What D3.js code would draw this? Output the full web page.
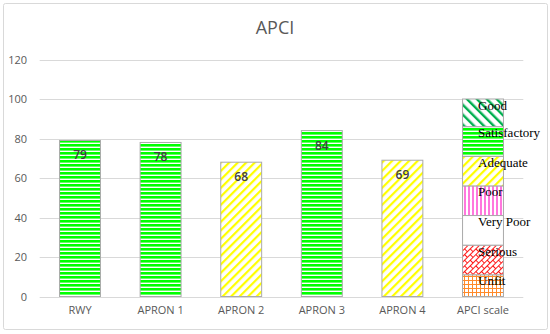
<!DOCTYPE html>
<html><head><meta charset="utf-8">
<script src="https://cdn.jsdelivr.net/npm/d3@7"></script>
<style>html,body{margin:0;padding:0;background:#fff;}svg{display:block;}</style>
</head><body>
<svg id="c" width="550" height="334"></svg>
<script>
const categories = ["RWY", "APRON 1", "APRON 2", "APRON 3", "APRON 4"];
const values = [79, 78, 68, 84, 69];
const ratings = ["Satisfactory", "Satisfactory", "Adequate", "Satisfactory", "Adequate"];
const scaleCategory = "APCI scale";
const scaleLabels = ["Unfit", "Serious", "Very Poor", "Poor", "Adequate", "Satisfactory", "Good"];
const scaleValues = [11, 15, 15, 15, 15, 15, 14];
const yTicks = [0, 20, 40, 60, 80, 100, 120];
const title = "APCI";

const svg = d3.select("#c");
const defs = svg.append("defs");
const pid = l => "p-" + l.replace(/\s+/g, "_");

// patterns
function pat(label, w, h, build, transform) {
  const p = defs.append("pattern").attr("id", pid(label)).attr("patternUnits", "userSpaceOnUse")
    .attr("width", w).attr("height", h);
  if (transform) p.attr("patternTransform", transform);
  p.append("rect").attr("width", w).attr("height", h).attr("fill", "#fff");
  build(p);
}
pat("Satisfactory", 4, 4, p => p.append("rect").attr("y", 0).attr("width", 4).attr("height", 2.6).attr("fill", "#00ff00"));
pat("Adequate", 6, 6, p => p.append("rect").attr("width", 2.2).attr("height", 6).attr("fill", "#ffff00"), "rotate(45)");
pat("Good", 7, 7, p => p.append("rect").attr("width", 2.4).attr("height", 7).attr("fill", "#00b050"), "rotate(-45)");
pat("Poor", 4, 4, p => p.append("rect").attr("width", 2).attr("height", 4).attr("fill", "#ff77dd"));
pat("Very Poor", 4, 4, p => {});
pat("Serious", 8, 8, p => {
  const s = (x1, y1, x2, y2) => p.append("line").attr("x1", x1).attr("y1", y1).attr("x2", x2).attr("y2", y2)
    .attr("stroke", "#ff0000").attr("stroke-width", 0.9);
  s(0, 0.5, 8, 0.5); s(0, 4.5, 8, 4.5); s(0.5, 0, 0.5, 4.5); s(4.5, 4.5, 4.5, 8);
}, "rotate(-45)");
pat("Unfit", 4, 4, p => {
  p.append("rect").attr("width", 4).attr("height", 1).attr("fill", "#ff8a2a");
  p.append("rect").attr("width", 1).attr("height", 4).attr("fill", "#ff8a2a");
});

// chart border
svg.append("rect").attr("x", 3.5).attr("y", 3.5).attr("width", 544).attr("height", 326)
  .attr("fill", "#fff").attr("stroke", "#d9d9d9").attr("rx", 2);

const allCats = categories.concat([scaleCategory]);
const x = d3.scaleBand().domain(allCats).range([39.7, 523.3]).paddingInner(0.48).paddingOuter(0.24);
const y = d3.scaleLinear().domain([0, 120]).range([296.5, 59.5]);

// gridlines
svg.append("g").selectAll("line").data(yTicks).join("line")
  .attr("x1", 39.7).attr("x2", 523.3)
  .attr("y1", d => Math.round(y(d)) + 0.5).attr("y2", d => Math.round(y(d)) + 0.5)
  .attr("stroke", "#d9d9d9").attr("stroke-width", 1);

// y axis labels
const ya = svg.append("g").attr("transform", "translate(27,0)")
  .call(d3.axisLeft(y).tickValues(yTicks).tickSize(0).tickPadding(0));
ya.select(".domain").remove();
ya.selectAll("text").attr("fill", "#595959").attr("font-family", "'Open Sans'").attr("font-size", 11);

// x axis labels
const xa = svg.append("g").attr("transform", "translate(0,306)")
  .call(d3.axisBottom(x).tickSize(0).tickPadding(0));
xa.select(".domain").remove();
xa.selectAll("text").attr("fill", "#595959").attr("font-family", "'Open Sans'").attr("font-size", 11);

// bars
const bars = categories.map((c, i) => ({c, v: values[i], r: ratings[i]}));
svg.append("g").selectAll("rect").data(bars).join("rect")
  .attr("x", d => x(d.c) + 0.5).attr("width", x.bandwidth() - 1)
  .attr("y", d => y(d.v)).attr("height", d => y(0) - y(d.v))
  .attr("fill", d => `url(#${pid(d.r)})`).attr("stroke", "#aaaaaa").attr("stroke-width", 1);

svg.append("g").selectAll("text").data(bars).join("text")
  .attr("x", d => x(d.c) + x.bandwidth() / 2).attr("y", d => y(d.v) + 19)
  .attr("text-anchor", "middle").attr("font-family", "'Open Sans'").attr("font-size", 12)
  .attr("font-weight", 600).attr("fill", "#404040").text(d => d.v);

// stacked scale bar
let acc = 0;
const segs = scaleLabels.map((l, i) => { const s = {l, y0: acc, y1: acc + scaleValues[i]}; acc += scaleValues[i]; return s; });
svg.append("g").selectAll("rect").data(segs).join("rect")
  .attr("x", x(scaleCategory) + 0.5).attr("width", x.bandwidth() - 1)
  .attr("y", d => y(d.y1)).attr("height", d => y(d.y0) - y(d.y1))
  .attr("fill", d => `url(#${pid(d.l)})`).attr("stroke", "#aaaaaa").attr("stroke-width", 1);
svg.append("g").selectAll("text").data(segs).join("text")
  .attr("x", x(scaleCategory) + x.bandwidth() / 2 - 5).attr("y", d => y(d.y1) + 10.5)
  .attr("font-family", "'Liberation Serif'").attr("font-size", 13).attr("fill", "#000").text(d => d.l);

// title
svg.append("text").attr("x", 275).attr("y", 34).attr("text-anchor", "middle")
  .attr("font-family", "'Open Sans'").attr("font-size", 18).attr("fill", "#595959").text(title);
</script>
</body></html>
